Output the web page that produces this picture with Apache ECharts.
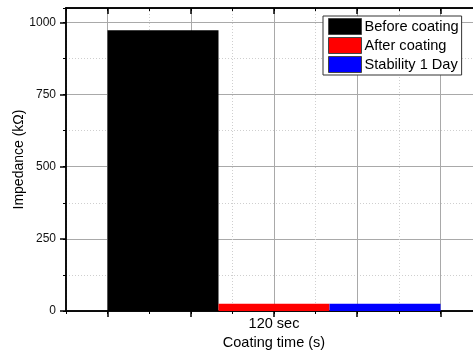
<!DOCTYPE html>
<html>
<head>
<meta charset="utf-8">
<script src="https://cdn.jsdelivr.net/npm/echarts@6/dist/echarts.min.js"></script>
<style>
  html, body { margin: 0; padding: 0; background: #fff; }
  #chart { width: 473px; height: 353px; }
</style>
</head>
<body>
<div id="chart"></div>
<script>
// Coating time groups and impedance readings (kΩ)
const categories = ['120 sec'];
const seriesNames = ['Before coating', 'After coating', 'Stability 1 Day'];
const beforeCoating = [973];
const afterCoating = [25];
const stability1Day = [25];
const seriesColors = ['#000000', '#ff0000', '#0000ff'];

// Y axis range and tick steps
const yMin = 0;
const yMax = 1050;
const yMajorStep = 250;
const yMinorStep = 125;

// Frame scale along x: ten minor divisions, majors on odd divisions
const xFrameMax = 10;
const xMajorTicks = [1, 3, 5, 7, 9];

const FONT = '"Liberation Sans", Arial, sans-serif';
const AXIS_COLOR = '#000';
const GRID_SOLID = '#a9a9a9';
const GRID_DOT = '#cfcfcf';

const chart = echarts.init(document.getElementById('chart'), null, { renderer: 'canvas' });

function frameAxis(position, major, inside) {
  return {
    type: 'value',
    position: position,
    min: 0,
    max: xFrameMax,
    interval: 1,
    axisLine: { show: true, lineStyle: { color: AXIS_COLOR, width: 1.5 } },
    axisTick: major
      ? { show: true, inside: inside, length: 6, customValues: xMajorTicks, lineStyle: { color: AXIS_COLOR, width: 1.5 } }
      : { show: true, inside: inside, length: 3, lineStyle: { color: AXIS_COLOR, width: 1 } },
    axisLabel: { show: false },
    splitLine: position === 'bottom'
      ? (major
          ? { show: true, lineStyle: { color: GRID_SOLID, width: 1, type: 'solid' } }
          : { show: true, lineStyle: { color: GRID_DOT, width: 1, type: [1, 2] } })
      : { show: false },
    silent: true
  };
}

const option = {
  animation: false,
  backgroundColor: '#fff',
  textStyle: { fontFamily: FONT },
  grid: { left: 66, right: -9, top: 8, bottom: 42, containLabel: false, outerBoundsMode: 'none' },
  legend: {
    orient: 'vertical',
    left: 323,
    top: 16,
    itemWidth: 33,
    itemHeight: 16,
    itemGap: 2,
    padding: [2, 3, 2, 5],
    backgroundColor: '#fff',
    borderColor: '#333',
    borderWidth: 1,
    icon: 'rect',
    itemStyle: { borderColor: '#444', borderWidth: 1 },
    textStyle: { fontFamily: FONT, fontSize: 14.6, color: '#000', padding: [0, 0, 0, -2] },
    data: seriesNames
  },
  xAxis: [
    {
      type: 'category',
      position: 'bottom',
      data: categories,
      axisLine: { show: false },
      axisTick: { show: false },
      splitLine: { show: false },
      axisLabel: { fontFamily: FONT, fontSize: 14.5, color: '#000', margin: 5 },
      name: 'Coating time (s)',
      nameLocation: 'middle',
      nameGap: 21,
      nameTextStyle: { fontFamily: FONT, fontSize: 14.5, color: '#000' }
    },
    frameAxis('bottom', false, false),
    frameAxis('bottom', true, false),
    frameAxis('top', false, true),
    frameAxis('top', true, true)
  ],
  yAxis: [
    {
      type: 'value',
      min: yMin,
      max: yMax,
      interval: yMinorStep,
      axisLine: { show: true, lineStyle: { color: AXIS_COLOR, width: 1.5 } },
      axisTick: { show: true, length: 3, lineStyle: { color: AXIS_COLOR, width: 1 } },
      axisLabel: { show: false },
      splitLine: { show: true, lineStyle: { color: GRID_DOT, width: 1, type: [1, 2] } },
      name: 'Impedance (kΩ)',
      nameLocation: 'middle',
      nameGap: 40,
      nameTextStyle: { fontFamily: FONT, fontSize: 14, color: '#000' }
    },
    {
      type: 'value',
      position: 'left',
      min: yMin,
      max: yMax,
      interval: yMajorStep,
      axisLine: { show: true, lineStyle: { color: AXIS_COLOR, width: 1.5 } },
      axisTick: { show: true, length: 6, lineStyle: { color: AXIS_COLOR, width: 1.5 } },
      axisLabel: {
        fontFamily: FONT, fontSize: 12, color: '#111', margin: 10, showMaxLabel: false,
        formatter: function (v) { return String(v); }
      },
      splitLine: { show: true, lineStyle: { color: GRID_SOLID, width: 1, type: 'solid' } }
    }
  ],
  series: [
    { name: seriesNames[0], data: beforeCoating },
    { name: seriesNames[1], data: afterCoating },
    { name: seriesNames[2], data: stability1Day }
  ].map(function (s, i) {
    return {
      type: 'bar',
      name: s.name,
      xAxisIndex: 0,
      yAxisIndex: 0,
      data: s.data,
      barWidth: 111,
      barGap: '0%',
      itemStyle: { color: seriesColors[i] },
      z: 3
    };
  })
};

chart.setOption(option);
</script>
</body>
</html>
